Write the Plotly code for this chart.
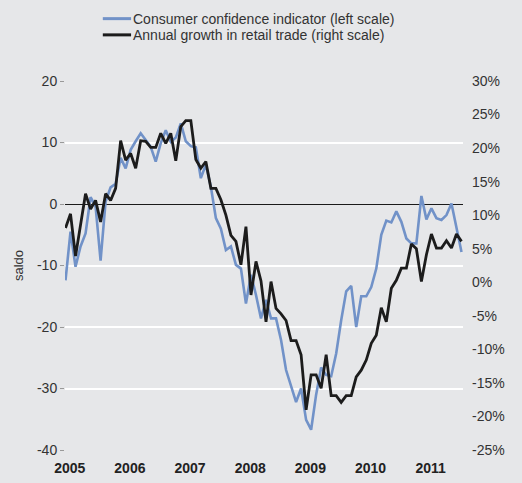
import plotly.graph_objects as go

# Monthly data, Jan 2005 .. Aug 2011
consumer_confidence = [
    -12.4, -4.5, -10.2, -6.9, -4.8, 1.1, -0.4, -9.2, 0.4, 2.7, 3.3, 7.5,
    5.8, 8.8, 10.2, 11.5, 10.4, 9.3, 6.9, 9.9, 12.0, 10.1, 10.8, 13.1,
    10.2, 9.4, 9.2, 4.2, 6.4, 2.8, -2.3, -4.0, -7.5, -6.9, -9.9, -10.5,
    -16.2, -11.5, -14.8, -18.6, -15.6, -18.6, -18.6, -22.1, -27.0, -29.7, -32.2, -30.0,
    -35.1, -36.7, -31.0, -26.6, -27.8, -28.0, -24.3, -18.9, -14.2, -13.3, -20.0, -15.0,
    -15.0, -13.5, -10.5, -5.0, -2.7, -3.0, -1.2, -2.9, -5.6, -6.4, -6.4, 1.3,
    -2.5, -0.7, -2.3, -2.6, -1.8, 0.1, -3.9, -7.8,
]
retail_growth = [
    8.1, 10.2, 3.9, 8.8, 13.2, 10.9, 12.2, 9.0, 13.2, 12.2, 14.0, 21.1,
    18.2, 19.2, 17.0, 21.1, 21.0, 20.1, 20.1, 22.2, 20.7, 22.2, 18.1, 23.2,
    24.1, 24.1, 18.3, 17.0, 18.0, 14.0, 14.0, 12.3, 10.0, 7.0, 6.1, 2.6,
    8.3, -1.9, 3.1, 0.2, -5.9, 0.1, -3.9, -4.7, -5.7, -8.7, -8.7, -10.8,
    -19.0, -13.8, -13.8, -15.8, -10.8, -16.9, -16.9, -17.9, -16.9, -16.9, -14.1, -13.1,
    -11.6, -9.1, -7.9, -3.8, -5.9, -0.9, 0.3, 2.1, 2.1, 5.7, 5.0, 0.1,
    4.1, 7.2, 5.1, 5.1, 6.2, 5.1, 7.2, 6.1,
]
series_names = [
    "Consumer confidence indicator (left scale)",
    "Annual growth in retail trade (right scale)",
]
year_labels = ["2005", "2006", "2007", "2008", "2009", "2010", "2011"]
left_ticks = [-40, -30, -20, -10, 0, 10, 20]
right_ticks = [-25, -20, -15, -10, -5, 0, 5, 10, 15, 20, 25, 30]

months = list(range(len(consumer_confidence)))
year_pos = [12 * k + 0.85 for k in range(len(year_labels))]

FONT = "Liberation Sans, Arial, Helvetica, sans-serif"
BG = "#e6e7e9"
COLORS = ["#7192c8", "#1c1c1c"]

fig = go.Figure()
fig.add_trace(go.Scatter(
    x=months, y=consumer_confidence, mode="lines", name=series_names[0],
    line=dict(color=COLORS[0], width=2.6), showlegend=False,
))
fig.add_trace(go.Scatter(
    x=months, y=retail_growth, mode="lines", yaxis="y2", name=series_names[1],
    line=dict(color=COLORS[1], width=2.8), showlegend=False,
))

# Custom legend (line swatch + text) placed above the plot
shapes = []
annotations = []
legend_rows_y = [1.169, 1.125]
for name, color, yy in zip(series_names, COLORS, legend_rows_y):
    shapes.append(dict(type="line", xref="paper", yref="paper",
                       x0=0.095, x1=0.166, y0=yy, y1=yy,
                       line=dict(color=color, width=3)))
    annotations.append(dict(text=name, xref="paper", yref="paper",
                            x=0.166, y=yy, xanchor="left", yanchor="middle",
                            showarrow=False,
                            font=dict(size=14, color="#333333", family=FONT)))

fig.update_layout(
    width=522, height=483,
    paper_bgcolor=BG, plot_bgcolor=BG,
    margin=dict(l=65, r=59, t=81, b=33, autoexpand=False),
    font=dict(family=FONT, size=14, color="#333333"),
    showlegend=False,
    shapes=shapes,
    annotations=annotations,
    xaxis=dict(
        range=[-0.1, 79.3], showgrid=False, zeroline=False,
        tickmode="array", tickvals=year_pos, ticktext=year_labels,
        tickfont=dict(size=14, color="#222222", family=FONT, weight="bold"),
        ticks="", showline=False, ticklabelstandoff=8,
    ),
    yaxis=dict(
        range=[-40, 20], tickmode="array", tickvals=left_ticks,
        ticktext=[str(v) for v in left_ticks],
        showgrid=True, gridcolor="#ffffff", gridwidth=1.6,
        zeroline=True, zerolinecolor="#1a1a1a", zerolinewidth=1.4,
        ticks="outside", ticklen=4, tickcolor="#999999",
        tickfont=dict(size=14, color="#333333"),
        title=dict(text="saldo", font=dict(size=13, color="#333333"), standoff=10),
        showline=False,
    ),
    yaxis2=dict(
        range=[-25, 30], tickmode="array", tickvals=right_ticks,
        ticktext=[f"{v}%" for v in right_ticks],
        overlaying="y", side="right",
        showgrid=False, zeroline=False, ticks="",
        tickfont=dict(size=14, color="#333333"), ticklabelstandoff=8,
    ),
)

fig.write_html(
    "out.html",
    config={"displayModeBar": False},
    post_script="document.body.style.margin='0';document.body.style.background='%s';" % BG,
)
